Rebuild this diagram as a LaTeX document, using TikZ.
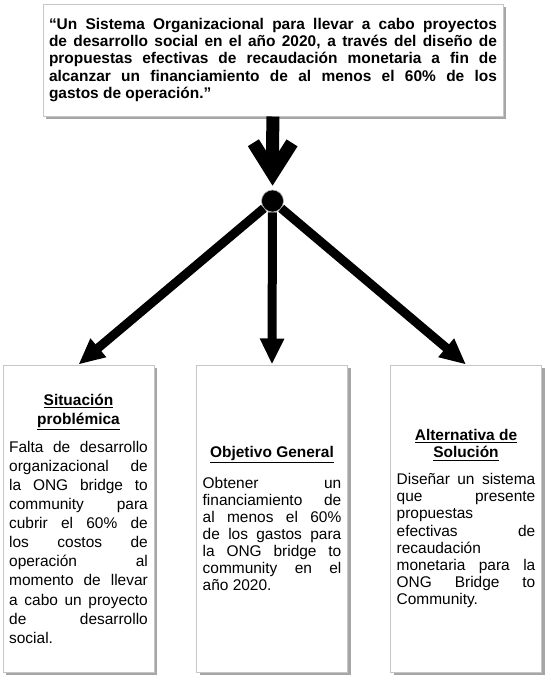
\documentclass[tikz,border=0pt]{standalone}
\usepackage{fontspec}
\setmainfont{Liberation Sans}
\usetikzlibrary{arrows.meta}
\tolerance=10000 \hyphenpenalty=10000 \hbadness=10000
\tikzset{every picture/.style={line width=0.75pt}}
\tikzset{
  boxshadow/.style={preaction={fill=gray!70, transform canvas={xshift=2.5pt,yshift=-2.5pt}}},
  topbox/.style={draw=gray!45, fill=white, boxshadow,
    text width=336pt, minimum width=345pt, minimum height=84pt, inner xsep=4.5pt, align=justify,
    font=\fontsize{11.6}{13}\selectfont\bfseries},
  cardbox/.style={draw=gray!45, fill=white, boxshadow,
    text width=104pt, minimum width=113.25pt, minimum height=230.25pt, inner xsep=4.5pt, align=justify,
    font=\fontsize{11.6}{12.8}\selectfont},
  widecard/.style={cardbox, font=\fontsize{11.6}{14.3}\selectfont},
  hubdot/.style={circle, fill=black, draw=gray!60, line width=0.5pt, minimum size=16.5pt, inner sep=0pt},
  bigarrow/.style={line width=9.75pt, -{Straight Barb[length=23pt,width=29pt,line width=9.75pt,sharp]}, shorten >=3pt},
  branch/.style={line width=6.75pt, -{Triangle[length=19.5pt,width=17pt]}}
}
\newcommand{\cardtitle}[2][7pt]{{\centering\bfseries #2\par}\vspace{#1}}
\begin{document}
\begin{tikzpicture}[x=0.75pt,y=0.75pt,yscale=-1,xscale=1]
		\useasboundingbox (0,0) rectangle (550,682); %diagram is 550 wide and 682 high
		
		%Shape: Rectangle [id:goal] 
		\node [topbox] (goal) at (273,60) {“Un Sistema Organizacional para llevar a cabo proyectos\linebreak de desarrollo social en el año 2020, a través del diseño de\linebreak propuestas efectivas de recaudación monetaria a fin de\linebreak alcanzar un financiamiento de al menos el 60\% de los\linebreak gastos de operación.”};
		
		%Shape: Circle [id:hub] 
		\node [hubdot] (hub) at (272.5,201) {};
		
		%Shape: Rectangle [id:problem] 
		\node [widecard] (problem) at (78.5,518.5) {\cardtitle{\underline{Situación}\\\underline{problémica}}Falta de desarrollo\linebreak organizacional de\linebreak la ONG bridge to\linebreak community para\linebreak cubrir el 60\% de\linebreak los costos de\linebreak operación al\linebreak momento de llevar\linebreak a cabo un proyecto\linebreak de desarrollo\linebreak social.};
		
		%Shape: Rectangle [id:objective] 
		\node [cardbox] (objective) at (272,518.5) {\cardtitle[9pt]{\underline{Objetivo General}}Obtener un\linebreak financiamiento de\linebreak al menos el 60\%\linebreak de los gastos para\linebreak la ONG bridge to\linebreak community en el\linebreak año 2020.};
		
		%Shape: Rectangle [id:solution] 
		\node [cardbox] (solution) at (466,518.5) {\cardtitle[7.5pt]{\underline{Alternativa de}\\\underline{Solución}}Diseñar un sistema\linebreak que presente\linebreak propuestas\newline efectivas de\linebreak recaudación\newline monetaria para la\linebreak ONG Bridge to\linebreak Community.};
		
		%Straight Lines [id:goal-hub] 
		\draw [bigarrow] (goal) -- (hub);
		
		%Straight Lines [id:hub-branches] 
		\draw [branch] (hub) -- (problem.north);
		\draw [branch] (hub) -- (objective.north);
		\draw [branch] (hub) -- (solution.north);
		
\end{tikzpicture}
\end{document}
